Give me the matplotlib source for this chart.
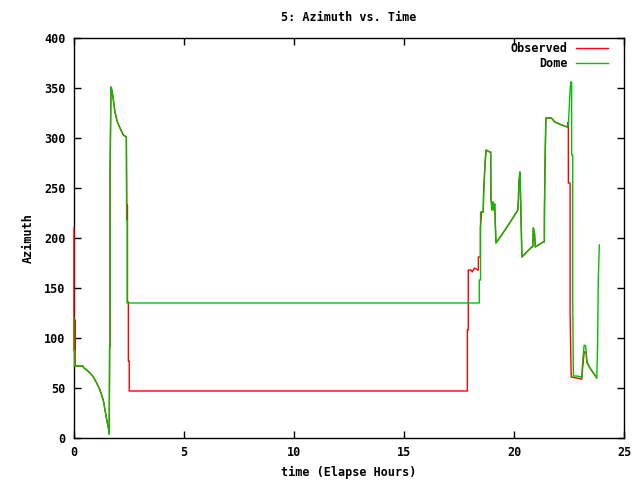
import matplotlib
matplotlib.use("Agg")
import matplotlib.pyplot as plt

# Observed azimuth (hours, degrees)
obs_t = [0.0, 0.0, 0.03, 0.03, 0.05, 0.05, 0.4, 0.45, 0.58, 0.73, 0.88, 1.03, 1.18,
         1.33, 1.41, 1.49, 1.58, 1.6, 1.62, 1.64, 1.64, 1.68, 1.72, 1.79, 1.86, 1.97,
         2.09, 2.24, 2.38, 2.4, 2.43, 2.43, 2.47, 2.47, 2.51, 2.51, 17.88, 17.88,
         17.92, 17.92, 18.05, 18.1, 18.2, 18.35, 18.38, 18.38, 18.47, 18.47, 18.53,
         18.6, 18.62, 18.68, 18.73, 18.9, 18.94, 18.95, 19.0, 19.05, 19.08, 19.12,
         19.18, 19.5, 19.8, 20.12, 20.17, 20.2, 20.22, 20.27, 20.3, 20.36, 20.58,
         20.8, 20.85, 20.88, 20.93, 20.97, 21.1, 21.33, 21.38, 21.38, 21.4, 21.45,
         21.7, 21.86, 22.17, 22.42, 22.47, 22.47, 22.55, 22.55, 22.6, 22.85, 23.08,
         23.12, 23.19, 23.28, 23.32, 23.45, 23.76]
obs_az = [210, 88, 88, 118, 118, 72, 72, 70, 68, 65, 61, 55, 48,
          38, 28, 18, 8, 4, 91, 91, 265, 351, 348, 338, 326, 316,
          310, 303, 301, 233, 233, 136, 136, 77, 77, 47, 47, 108,
          108, 168, 168, 166, 170, 168, 168, 181, 181, 210, 226,
          226, 245, 273, 288, 286, 286, 241, 228, 236, 228, 234,
          195, 205, 215, 226, 228, 238, 255, 266, 240, 181, 186,
          191, 191, 210, 205, 191, 193, 196, 196, 226, 258, 320,
          320, 316, 313, 311, 316, 255, 255, 125, 61, 60, 59,
          70, 86, 86, 75, 70, 60]

# Dome azimuth (hours, degrees)
dome_t = [0.0, 0.0, 0.02, 0.02, 0.4, 0.45, 0.58, 0.73, 0.88, 1.03, 1.18,
          1.33, 1.41, 1.49, 1.58, 1.6, 1.62, 1.64, 1.64, 1.68, 1.72, 1.79, 1.86,
          1.97, 2.09, 2.24, 2.38, 2.39, 2.42, 2.42, 18.42, 18.42, 18.48, 18.48,
          18.6, 18.62, 18.68, 18.73, 18.9, 18.94, 18.95, 19.0, 19.05, 19.08, 19.12,
          19.18, 19.5, 19.8, 20.12, 20.17, 20.2, 20.22, 20.27, 20.3, 20.36, 20.58,
          20.8, 20.85, 20.88, 20.93, 20.97, 21.1, 21.33, 21.38, 21.4, 21.42, 21.45,
          21.7, 21.86, 22.17, 22.42, 22.47, 22.51, 22.55, 22.58, 22.62, 22.62,
          22.67, 22.67, 22.7, 22.85, 23.08, 23.12, 23.19, 23.26, 23.3, 23.4, 23.76,
          23.8, 23.83, 23.88]
dome_az = [120, 88, 88, 72, 72, 70, 68, 65, 61, 55, 48,
           38, 28, 18, 8, 4, 91, 91, 265, 351, 348, 338, 326,
           316, 310, 303, 301, 218, 218, 135, 135, 158, 158, 226,
           226, 245, 273, 288, 286, 286, 241, 228, 236, 228, 234,
           195, 205, 215, 226, 228, 238, 255, 266, 240, 181, 186,
           191, 191, 210, 205, 191, 193, 196, 196, 258, 290, 320,
           320, 316, 313, 311, 313, 330, 348, 356, 356, 283,
           283, 135, 62, 62, 61, 76, 93, 92, 78, 72, 60,
           91, 158, 193]

font = {"family": "DejaVu Sans Mono", "weight": "bold", "size": 8.5}
plt.rcParams["font.family"] = "DejaVu Sans Mono"
plt.rcParams["font.weight"] = "bold"

fig = plt.figure(figsize=(6.4, 4.8), dpi=100)
ax = fig.add_axes([74 / 640, 42 / 480, 550 / 640, 400 / 480])

ax.plot(obs_t, obs_az, color="#ff0000", linewidth=1.0, label="Observed",
        zorder=3, clip_on=False)
ax.plot(dome_t, dome_az, color="#00c000", linewidth=1.0, label="Dome",
        zorder=3, clip_on=False)

ax.set_xlim(0, 25)
ax.set_ylim(0, 400)
ax.set_xticks(range(0, 26, 5))
ax.set_yticks(range(0, 401, 50))
ax.tick_params(direction="in", length=5, width=1, top=True, right=True,
               labelsize=8.5, pad=6)
for sp in ax.spines.values():
    sp.set_linewidth(1)

ax.set_title("5: Azimuth vs. Time", fontdict=font, pad=12)
ax.set_xlabel("time (Elapse Hours)", fontdict=font, labelpad=5)
ax.set_ylabel("Azimuth", fontdict=font, labelpad=7)

leg = ax.legend(loc="upper right", bbox_to_anchor=(0.971, 0.99),
                frameon=False, markerfirst=False,
                handlelength=2.7, handletextpad=0.7, labelspacing=0.2,
                borderaxespad=0, borderpad=0, prop=font)

fig.savefig("out.png", dpi=100)
